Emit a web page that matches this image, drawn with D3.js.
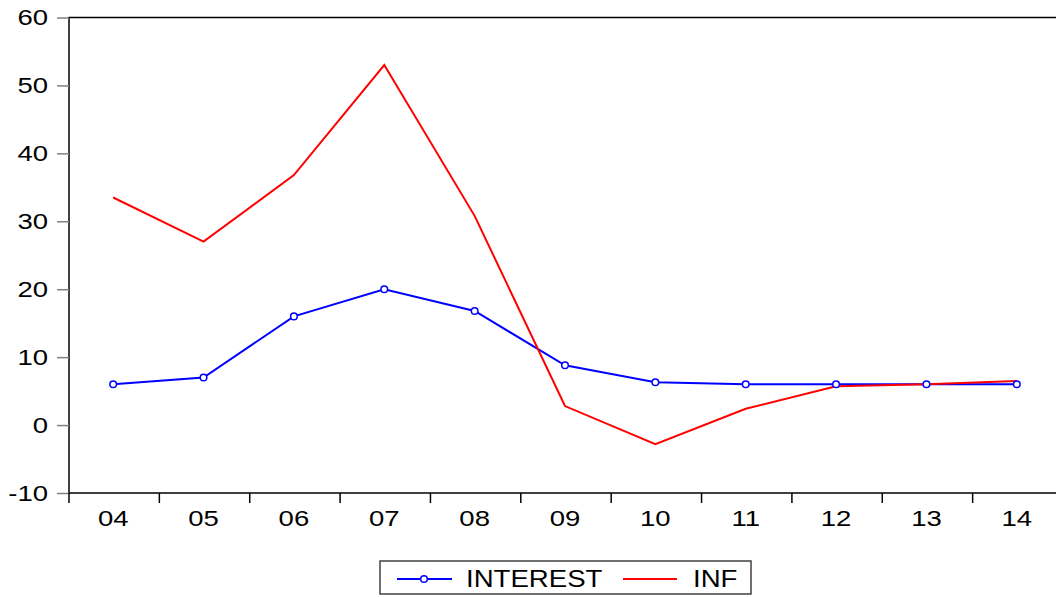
<!DOCTYPE html>
<html><head><meta charset="utf-8">
<script src="https://cdn.jsdelivr.net/npm/d3@7"></script>
<style>
html,body{margin:0;padding:0;background:#fff;overflow:hidden}
svg{display:block}
text{font-family:"Liberation Sans",Arial,sans-serif}
</style></head>
<body>
<svg id="chart" width="1056" height="597"></svg>
<script>
const years = ["04","05","06","07","08","09","10","11","12","13","14"];
const interest = [6.0, 7.0, 16.0, 20.0, 16.8, 8.8, 6.3, 6.0, 6.0, 6.0, 6.0];
const inf = [33.5, 27.0, 36.8, 53.0, 30.8, 2.8, -2.8, 2.4, 5.7, 6.0, 6.5];
const yTicks = [-10, 0, 10, 20, 30, 40, 50, 60];
const seriesNames = ["INTEREST", "INF"];

(function () {
const svg = d3.select("#chart");
const pL = 69, pR = 1063, pT = 17.5, pB = 493;

const x = d3.scaleBand().domain(years).range([pL, pR]);
const y = d3.scaleLinear().domain([-10, 60]).range([pB, pT]);
const cx = v => x(v) + x.bandwidth() / 2 - 1;

// frame
svg.append("rect").attr("x", pL).attr("y", pT).attr("width", pR - pL).attr("height", pB - pT)
  .attr("fill", "none").attr("stroke", "#000").attr("stroke-width", 1.5);

// y axis
const gy = svg.append("g").attr("transform", `translate(${pL},0)`)
  .call(d3.axisLeft(y).tickValues(yTicks).tickSize(12).tickPadding(9).tickFormat(d => String(d)));
gy.select(".domain").remove();
gy.selectAll(".tick line").attr("stroke", "#808080").attr("stroke-width", 1.5);
gy.selectAll(".tick text").attr("font-size", 22).attr("fill", "#000")
  .attr("font-family", "Liberation Sans, Arial, sans-serif")
  .attr("transform", "translate(-21,0) scale(1.25,1) translate(21,0)");

// x axis: ticks at band boundaries
const boundaries = d3.range(years.length + 1).map(i => pL + i * x.step());
svg.append("g").selectAll("line").data(boundaries).join("line")
  .attr("x1", d => d).attr("x2", d => d).attr("y1", pB).attr("y2", pB + 10)
  .attr("stroke", "#000").attr("stroke-width", 1.5);
const gx = svg.append("g").attr("transform", `translate(-1,${pB})`)
  .call(d3.axisBottom(x).tickSize(0).tickPadding(17));
gx.select(".domain").remove();
gx.selectAll(".tick text").attr("font-size", 22).attr("fill", "#000")
  .attr("font-family", "Liberation Sans, Arial, sans-serif")
  .attr("transform", "scale(1.25,1)");

// lines
const line = d3.line().x((d, i) => cx(years[i])).y(d => y(d));
svg.append("path").datum(interest).attr("d", line).attr("fill", "none")
  .attr("stroke", "#0000ff").attr("stroke-width", 2);
svg.append("path").datum(inf).attr("d", line).attr("fill", "none")
  .attr("stroke", "#ff0000").attr("stroke-width", 2);
svg.append("g").selectAll("circle").data(interest).join("circle")
  .attr("cx", (d, i) => cx(years[i])).attr("cy", d => y(d)).attr("r", 3.3)
  .attr("fill", "#fff").attr("stroke", "#0000ff").attr("stroke-width", 1.5);

// legend
const lg = svg.append("g");
lg.append("rect").attr("x", 380).attr("y", 561).attr("width", 371).attr("height", 33)
  .attr("fill", "#fff").attr("stroke", "#404040").attr("stroke-width", 1.5);
lg.append("line").attr("x1", 397).attr("x2", 452).attr("y1", 579).attr("y2", 579)
  .attr("stroke", "#0000ff").attr("stroke-width", 2);
lg.append("circle").attr("cx", 424).attr("cy", 579).attr("r", 3.3)
  .attr("fill", "#fff").attr("stroke", "#0000ff").attr("stroke-width", 1.5);
lg.append("text").attr("x", 466).attr("y", 587).attr("font-size", 23).text(seriesNames[0])
  .attr("transform", "translate(466,0) scale(1.2,1) translate(-466,0)");
lg.append("line").attr("x1", 623).attr("x2", 677).attr("y1", 579).attr("y2", 579)
  .attr("stroke", "#ff0000").attr("stroke-width", 2);
lg.append("text").attr("x", 693).attr("y", 587).attr("font-size", 23).text(seriesNames[1])
  .attr("transform", "translate(693,0) scale(1.2,1) translate(-693,0)");
})();
</script>
</body></html>
